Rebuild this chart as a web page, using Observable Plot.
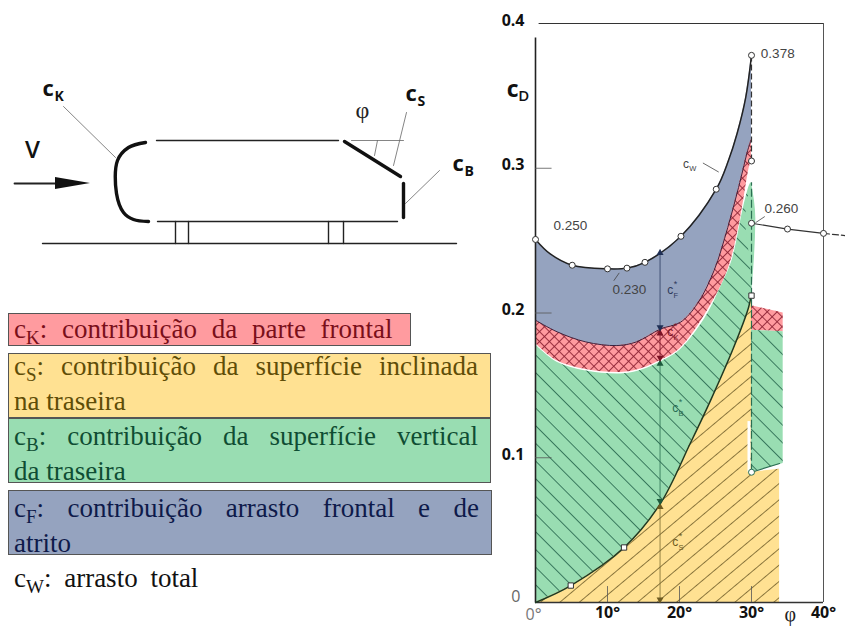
<!DOCTYPE html>
<html lang="pt">
<head>
<meta charset="utf-8">
<script src="https://cdn.jsdelivr.net/npm/d3@7"></script>
<script src="https://cdn.jsdelivr.net/npm/@observablehq/plot@0.6"></script>
<style>
html,body{margin:0;padding:0;background:#fff;width:845px;height:628px;overflow:hidden}
#root{position:relative;width:845px;height:628px}
#root svg{position:absolute;overflow:visible;background:transparent}
.lg{position:absolute;box-sizing:border-box;font-family:"Liberation Serif",serif;font-size:27px;line-height:35px;padding:0 12px 0 5px;border:1px solid #555;margin:0}
.lg sub{font-size:19px;line-height:0;vertical-align:-6px}
.lg .j{display:block;text-align:justify;text-align-last:justify;white-space:nowrap}
.lg .l{display:block;text-align:left;white-space:nowrap}
</style>
</head>
<body>
<div id="root"></div>
<script>
// ---- chart values: angle (degrees) and drag coefficient ----
const cwPhi   = [0, 2, 5.1, 10, 12.7, 15.2, 20.2, 25.1, 26.8, 28, 29.2, 30];
const cwVal   = [.2508, .241, .233, .2305, .231, .235, .253, .2855, .3053, .324, .349, .378];
const cfPhi   = [0, 3, 7, 11.3, 14, 17.4, 20.1, 22.5, 24.8, 26.7, 28.2, 29.6, 30];
const cfVal   = [.195, .187, .180, .1775, .180, .189, .1935, .2065, .2293, .259, .2867, .3145, .32];
const ckPhi   = [0, 3, 7, 12.2, 15, 17.3, 20.1, 23.9, 26.7, 28.5, 29.7, 30];
const ckVal   = [.179, .167, .161, .159, .162, .167, .1755, .2017, .2293, .266, .3005, .305];
const cbPhi   = [0, 3, 7, 12.2, 15, 17.3, 20.1, 23.5, 25.7, 27.3, 28.9, 29.8, 30];
const cbVal   = [.178, .166, .160, .158, .161, .166, .1745, .196, .2176, .2363, .273, .289, .29];
const csPhi   = [0, 4.9, 12.3, 17.3, 21.5, 24.3, 27.5, 29.6, 30];
const csVal   = [0, .0117, .038, .068, .11, .1395, .176, .204, .214];
const redTailPhi = [30, 34.4];
const redTailTop = [.205, .2];
const redTailLow = [.188, .187];
const greenTailLow = [.09, .096];
const yellowTailPhi = [30, 33.9];
const yellowTailTop = [.09, .092];
const stripVal = [.29, .265, .23, .212];
const stripLeft = [30, 29.2, 29.9, 30];
const stripRight = [30, 30.6, 30.3, 30];
const gapPhi = 29.65;
const gapFrom = .09;
const gapTo = .125;
const afterPhi = [30, 35, 40];
const afterVal = [.262, .258, .255];
const afterDashPhi = [40, 43];
const afterDashVal = [.255, .2535];
const ringPhi = [0, 5.1, 10, 12.7, 15.2, 20.2, 25.1, 30, 30, 30, 35, 40];
const ringVal = [.2508, .233, .2305, .231, .235, .253, .2855, .378, .305, .262, .258, .255];
const squarePhi = [4.9, 12.3, 30];
const squareVal = [.0117, .038, .212];
const bottomRingPhi = [30];
const bottomRingVal = [.09];
const arrowPhi = 17.3;
const arrowUpVal = [.2435, .188, .167, .068];
const arrowUpFill = ["#1f2f55", "#7a1224", "#1c5a3c", "#6d5a20"];
const arrowDownVal = [.188, .167, .068, 0];
const arrowDownFill = ["#1f2f55", "#7a1224", "#1c5a3c", "#6d5a20"];
const stemFrom = [.188, .167, .068, 0];
const stemTo = [.2435, .188, .167, .068];
const stemColor = ["#2a3a60", "#7a1224", "#2b6e52", "#7a6a30"];
const tickYVals = [.1, .2, .3];
const tickXVals = [10, 20, 30];
const yLabels = [.1, .2, .3, .4];
const xLabels = [10, 20, 30, 40];
const noteText = ["0.378", "0.250", "0.230", "0.260"];
const notePhi = [31.3, 2.5, 10.7, 31.8];
const noteVal = [.3795, .2605, .2162, .272];
const leaderPhi = [[23.3, 25.4], [10.9, 11.6], [31.8, 30.6]];
const leaderVal = [[.3035, .2975], [.2225, .2275], [.2665, .2625]];
const curveSub = ["W", "F", "K", "B", "S"];
const curvePhi = [20.5, 18.3, 18.3, 19, 19];
const curveVal = [.303, .2155, .1865, .134, .0415];
const curveInk = ["#444", "#2f3a5a", "#7a1224", "#2b6e52", "#6d5a20"];

// ---- schematic values ----
const noseX = [145, 128, 117, 116, 123, 133, 148];
const noseY = [142, 147, 160, 193, 212, 219, 221];
const thinSegs = [
  [[156,140],[338,140]], [[157,221],[397,221]], [[42,243],[456,243]],
  [[175,221],[175,243]], [[188,221],[188,243]], [[328,221],[328,243]], [[343,221],[343,243]]
];
const hairSegs = [
  [[351,140],[403,140]], [[377,140],[374,155]], [[406,112],[393,165]],
  [[439,170],[405,203]], [[63,106],[115,157]]
];
const thickSegs = [ [[344,141],[400,176]], [[403,183],[403,217]] ];
const arrowShaft = [[14,183],[60,183]];
const arrowHeadX = [55, 90];
const arrowHeadTop = [177, 183];
const arrowHeadLow = [189, 183];
const bigLabels = ["c", "c", "c"];
const bigSubs = ["K", "S", "B"];
const bigX = [42, 405, 452];
const bigY = [95, 100, 170];

// ---- legend ----
const legendRows = [
  {sym:"K", lines:["contribuição da parte frontal"], bg:"#ff9b9f", fg:"#7a0f1a", box:[8,313,403,33], plain:true, shift:-2},
  {sym:"S", lines:["contribuição da superfície inclinada", "na traseira"], bg:"#ffe192", fg:"#5f4d07", box:[8,353,483,65], shift:-5},
  {sym:"B", lines:["contribuição da superfície vertical", "da traseira"], bg:"#99ddb2", fg:"#0f4d33", box:[8,418,483,65], shift:0},
  {sym:"F", lines:["contribuição arrasto frontal e de", "atrito"], bg:"#95a3bf", fg:"#0e1a4a", box:[8,490,484,65], shift:0}
];
const totalRow = {sym:"W", text:"arrasto total", fg:"#111", at:[14,560]};

const zip = (xs, ys) => xs.map((x, i) => ({x, y: ys[i]}));
const seg = s => s.map(([x, y]) => ({x, y}));
const curve = "catmull-rom";
const colors = {blue:"#95a3bf", red:"#ff9b9f", green:"#99ddb2", yellow:"#ffe192"};

const cw = zip(cwPhi, cwVal), cf = zip(cfPhi, cfVal), ck = zip(ckPhi, ckVal),
      cb = zip(cbPhi, cbVal), cs = zip(csPhi, csVal);
const under = (rows, fill) => Plot.areaY(rows, {x:"x", y2:"y", y1:0, fill, curve});
const redTail = redTailPhi.map((x,i)=>({x, a:redTailLow[i], b:redTailTop[i]}));
const greenTail = redTailPhi.map((x,i)=>({x, a:greenTailLow[i], b:redTailLow[i]}));
const yellowTail = yellowTailPhi.map((x,i)=>({x, a:0, b:yellowTailTop[i]}));
const strip = stripVal.map((y,i)=>({y, a:stripLeft[i], b:stripRight[i]}));
const tail = (rows, fill) => Plot.areaY(rows, {x:"x", y1:"a", y2:"b", fill});

const bold = {fontFamily:"'Open Sans',sans-serif", fontWeight:"bold", fontSize:16};
const small = {fontFamily:"'Liberation Sans',sans-serif", textAnchor:"start"};

const chart = Plot.plot({
  width:355, height:628, marginLeft:45, marginRight:22, marginTop:23, marginBottom:26,
  x:{domain:[0,40], axis:null}, y:{domain:[0,.4], axis:null},
  style:{background:"transparent"},
  marks:[
    under(cw, colors.blue),
    under(cf, colors.red), under(cf, "url(#hatchRed)"),
    under(ck, "#fff"),
    under(cb, colors.green), under(cb, "url(#hatchGreen)"),
    tail(redTail, colors.red), tail(redTail, "url(#hatchRed)"),
    tail(greenTail, colors.green), tail(greenTail, "url(#hatchGreen)"),
    Plot.areaX(strip, {y:"y", x1:"a", x2:"b", fill:colors.green, curve:"monotone-y"}),
    under(cs, colors.yellow), under(cs, "url(#hatchYellow)"),
    tail(yellowTail, colors.yellow), tail(yellowTail, "url(#hatchYellow)"),
    Plot.ruleX([gapPhi], {y1:gapFrom, y2:gapTo, stroke:"#fff", strokeWidth:3}),
    // frame
    Plot.ruleY([.4], {x1:.5, x2:40, stroke:"#333", strokeWidth:1.2}),
    Plot.ruleX([40], {y1:0, y2:.4, stroke:"#555", strokeWidth:1}),
    Plot.ruleX([0], {y1:0, y2:.39, stroke:"#222", strokeWidth:1.6}),
    Plot.ruleY([0], {x1:0, x2:40, stroke:"#333", strokeWidth:1.6}),
    Plot.ruleY(tickYVals, {x1:0, x2:2.3, stroke:"#555", strokeWidth:.8}),
    Plot.ruleX(tickXVals, {y1:0, y2:.011, stroke:"#555", strokeWidth:.8}),
    // curves
    Plot.line(cw, {x:"x", y:"y", stroke:"#222", strokeWidth:1.5, curve}),
    Plot.line(cf, {x:"x", y:"y", stroke:"#3a2440", strokeWidth:1, curve}),
    Plot.line(cs, {x:"x", y:"y", stroke:"#1c3a24", strokeWidth:1.5, curve}),
    Plot.ruleX([30], {y1:.305, y2:.378, stroke:"#333", strokeWidth:1.2, strokeDasharray:"6 3"}),
    Plot.ruleX([30], {y1:.09, y2:.29, stroke:"#2b6e52", strokeWidth:1.2, strokeDasharray:"8 3"}),
    Plot.line(zip(afterPhi, afterVal), {x:"x", y:"y", stroke:"#333", strokeWidth:1.2}),
    Plot.line(zip(afterDashPhi, afterDashVal), {x:"x", y:"y", stroke:"#333", strokeWidth:1.2, strokeDasharray:"6 3"}),
    Plot.line(zip(yellowTailPhi, greenTailLow), {x:"x", y:"y", stroke:"#2b6e52", strokeWidth:1.2}),
    // contribution arrows
    Plot.ruleX(stemFrom, {x:()=>arrowPhi, y1:d=>d, y2:(d,i)=>stemTo[i], stroke:(d,i)=>stemColor[i], strokeWidth:.8}),
    Plot.dot(arrowUpVal, {x:()=>arrowPhi, y:d=>d, symbol:"triangle", r:2.6, fill:(d,i)=>arrowUpFill[i], dy:3}),
    Plot.dot(arrowDownVal, {x:()=>arrowPhi, y:d=>d, symbol:"triangle", rotate:180, r:2.6, fill:(d,i)=>arrowDownFill[i], dy:-3}),
    // leaders
    ...leaderPhi.map((xs,i)=>Plot.line(zip(xs, leaderVal[i]), {x:"x", y:"y", stroke:"#444", strokeWidth:.8})),
    // data points
    Plot.dot(zip(ringPhi, ringVal), {x:"x", y:"y", r:3, fill:"#fff", stroke:"#333", strokeWidth:1}),
    Plot.dot(zip(squarePhi, squareVal), {x:"x", y:"y", r:3, symbol:"square", fill:"#fff", stroke:"#333", strokeWidth:1}),
    Plot.dot(zip(bottomRingPhi, bottomRingVal), {x:"x", y:"y", r:3, fill:"#fff", stroke:"#2b6e52", strokeWidth:1}),
    // axes
    Plot.axisY(yLabels, {anchor:"left", tickSize:0, tickPadding:11, tickFormat:d3.format(".1f"), label:null, ...bold, fill:"#111", dy:-3}),
    Plot.axisY([0], {anchor:"left", tickSize:0, tickPadding:15, tickFormat:d=>"0", label:null, ...bold, fontWeight:"normal", fill:"#666", dy:-6}),
    Plot.axisX(xLabels, {anchor:"bottom", tickSize:0, tickPadding:4, tickFormat:d=>d+"°", label:null, ...bold, fill:"#111"}),
    Plot.axisX([0], {anchor:"bottom", tickSize:0, tickPadding:6, tickFormat:d=>d+"°", label:null, ...bold, fontWeight:"normal", fill:"#777", dx:-2}),
    // annotations
    Plot.text(noteText, {x:(d,i)=>notePhi[i], y:(d,i)=>noteVal[i], text:d=>d, ...small, fontSize:13.5, fill:"#444"}),
    Plot.text(curveSub, {x:(d,i)=>curvePhi[i], y:(d,i)=>curveVal[i], text:()=>"c", ...small, fontSize:12, fill:(d,i)=>curveInk[i]}),
    Plot.text(curveSub, {x:(d,i)=>curvePhi[i]+.85, y:(d,i)=>curveVal[i]-.0035, text:d=>d, ...small, fontSize:7.5, fill:(d,i)=>curveInk[i]}),
    Plot.text(curveSub.slice(1), {x:(d,i)=>curvePhi[i+1]+.9, y:(d,i)=>curveVal[i+1]+.0045, text:()=>"*", ...small, fontSize:9, fill:(d,i)=>curveInk[i+1]}),
    Plot.text(["c"], {x:()=>-4, y:()=>.354, text:d=>d, textAnchor:"start", fontFamily:"'Open Sans',sans-serif", fontWeight:"bold", fontSize:23, fill:"#111"}),
    Plot.text(["D"], {x:()=>-2.4, y:()=>.3495, text:d=>d, textAnchor:"start", fontFamily:"'Open Sans',sans-serif", fontWeight:"600", fontSize:15, fill:"#111"}),
    Plot.text(["φ"], {x:()=>35.4, y:()=>-.0085, text:d=>d, fontFamily:"'Liberation Serif',serif", fontSize:20, fill:"#222"})
  ]
});

const defs = d3.select(chart).insert("defs", ":first-child");
const hatch = (id, size, angle, stroke, width) => {
  const p = defs.append("pattern").attr("id", id).attr("patternUnits","userSpaceOnUse")
    .attr("width", size).attr("height", size)
    .attr("patternTransform", `rotate(${angle})`);
  p.append("line").attr("x1",0).attr("y1",size/2).attr("x2",size).attr("y2",size/2)
    .attr("stroke", stroke).attr("stroke-width", width);
  return p;
};
hatch("hatchGreen", 12.5, 45, "#2f6e55", .9);
hatch("hatchYellow", 12.5, -40, "#7f6c35", .9);
const red = hatch("hatchRed", 7, 45, "#8f2536", .9);
red.append("line").attr("x1",3.5).attr("y1",0).attr("x2",3.5).attr("y2",7)
  .attr("stroke", "#8f2536").attr("stroke-width", .9);
chart.style.left = "490px"; chart.style.top = "0";

const sketchLines = (segs, w, c) => segs.map(s => Plot.line(seg(s), {x:"x", y:"y", stroke:c, strokeWidth:w}));
const sketch = Plot.plot({
  width:490, height:300, margin:0,
  x:{domain:[0,490], axis:null}, y:{domain:[0,300], reverse:true, axis:null},
  style:{background:"transparent"},
  marks:[
    Plot.line(zip(noseX, noseY), {x:"x", y:"y", stroke:"#111", strokeWidth:3.4, curve:"catmull-rom"}),
    ...sketchLines(thinSegs, 1.4, "#222"),
    ...sketchLines(hairSegs, .8, "#666"),
    ...sketchLines(thickSegs, 3.4, "#111"),
    Plot.line(seg(arrowShaft), {x:"x", y:"y", stroke:"#222", strokeWidth:1.8}),
    Plot.areaY(arrowHeadX.map((x,i)=>({x, a:arrowHeadTop[i], b:arrowHeadLow[i]})), {x:"x", y1:"a", y2:"b", fill:"#111"}),
    Plot.text(["V"], {x:()=>32, y:()=>150, text:d=>d, fontFamily:"'Open Sans',sans-serif", fontSize:24, fontWeight:600, fill:"#111"}),
    Plot.text(["φ"], {x:()=>362, y:()=>110, text:d=>d, fontFamily:"'Liberation Serif',serif", fontSize:24, fill:"#222"}),
    Plot.text(bigLabels, {x:(d,i)=>bigX[i], y:(d,i)=>bigY[i], text:d=>d, textAnchor:"start", lineAnchor:"bottom", fontFamily:"'Open Sans',sans-serif", fontWeight:"bold", fontSize:22, fill:"#111"}),
    Plot.text(bigSubs, {x:(d,i)=>bigX[i]+12, y:(d,i)=>bigY[i]+5, text:d=>d, textAnchor:"start", lineAnchor:"bottom", fontFamily:"'Open Sans',sans-serif", fontWeight:"bold", fontSize:14, fill:"#111"})
  ]
});
sketch.style.left = "0"; sketch.style.top = "0";

const root = document.getElementById("root");
root.append(sketch, chart);
for (const r of legendRows) {
  const d = document.createElement("div");
  d.className = "lg";
  const [x, y, w, h] = r.box;
  Object.assign(d.style, {left:x+"px", top:y+"px", width:w+"px", height:h+"px", background:r.bg, color:r.fg});
  const head = `c<sub>${r.sym}</sub>: ${r.lines[0]}`;
  const first = r.plain
    ? `<span class="l" style="word-spacing:8px;margin-top:${r.shift}px">${head}</span>`
    : `<span class="j" style="margin-top:${r.shift}px">${head}</span>`;
  d.innerHTML = first + (r.lines[1] ? `<span class="l">${r.lines[1]}</span>` : "");
  root.append(d);
}
const t = document.createElement("div");
t.className = "lg";
Object.assign(t.style, {left:(totalRow.at[0]-6)+"px", top:totalRow.at[1]+"px", border:"1px solid transparent", color:totalRow.fg, whiteSpace:"nowrap", wordSpacing:"6px"});
t.innerHTML = `c<sub>${totalRow.sym}</sub>: ${totalRow.text}`;
root.append(t);
</script>
</body>
</html>
